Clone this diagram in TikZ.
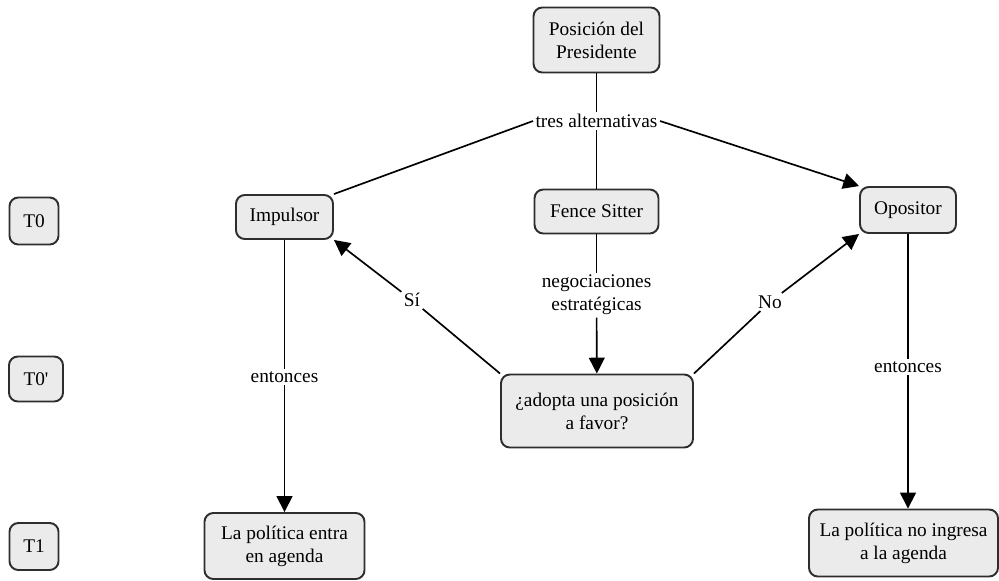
\documentclass[tikz,border=0pt]{standalone}
\usepackage{fontspec}
\setmainfont{Liberation Serif}
\usetikzlibrary{arrows.meta}
\definecolor{boxfill}{HTML}{EBEBEB}
\definecolor{boxline}{HTML}{2E2E2E}
\tikzset{
	box/.style={draw=boxline,fill=boxfill,line width=1.1pt,rounded corners=5pt,align=center,inner sep=2pt},
	lbl/.style={align=center,inner sep=1pt},
	>={Triangle[width=9pt,length=9pt]}
}
\begin{document}
\begin{tikzpicture}[font=\fontsize{11}{13}\selectfont,line width=0.95pt]
	\useasboundingbox (0,0) rectangle (19.98,-11.6);
	
	\node[box,minimum width=0.98cm,minimum height=0.94cm] (T0) at(0.68,-4.42) {T0};
	\node[box,minimum width=1.08cm,minimum height=0.9cm] (T0b) at(0.72,-7.58) {T0\textquotesingle};
	\node[box,minimum width=0.98cm,minimum height=0.94cm] (T1) at(0.68,-10.93) {T1};
	
	\node[box,minimum width=2.52cm,minimum height=1.3cm] (P) at(11.93,-0.8) {Posición del\\Presidente};
	\node[lbl] (tres) at(11.93,-2.42) {tres alternativas};
	\node[box,minimum width=1.94cm,minimum height=0.88cm] (I) at(5.69,-4.34) {Impulsor};
	\node[box,minimum width=2.48cm,minimum height=0.88cm] (F) at(11.93,-4.23) {Fence Sitter};
	\node[box,minimum width=1.92cm,minimum height=0.92cm] (O) at(18.16,-4.2) {Opositor};
	\node[box,minimum width=3.84cm,minimum height=1.46cm] (A) at(11.94,-8.22) {¿adopta una posición\\a favor?};
	\node[box,minimum width=3.2cm,minimum height=1.32cm] (E) at(5.69,-10.92) {La política entra\\en agenda};
	\node[box,minimum width=3.78cm,minimum height=1.34cm] (N) at(18.07,-10.86) {La política no ingresa\\a la agenda};
	
	\node[lbl] (neg) at(11.93,-5.9) {negociaciones\\estratégicas};
	\node[lbl] (si) at(8.24,-6.0) {Sí};
	\node[lbl] (no) at(15.4,-6.04) {No};
	\node[lbl] (ent1) at(5.69,-7.54) {entonces};
	\node[lbl] (ent2) at(18.16,-7.34) {entonces};
	
	\draw (P)--(tres);
	\draw (tres)--(F);
	\draw (tres.west)--(I.north east);
	\draw[->] (tres.east)--(O.north west);
	
	\draw (F)--(neg);
	\draw[->] (neg)--(A);
	\draw (A.north west)--(si);
	\draw[->] (si)--(I.south east);
	\draw (A.north east)--(no);
	\draw[->] (no)--(O.south west);
	
	\draw (I)--(ent1);
	\draw[->] (ent1)--(E);
	\draw (O)--(ent2);
	\draw[->] (ent2)--(ent2 |- N.north);
\end{tikzpicture}
\end{document}
